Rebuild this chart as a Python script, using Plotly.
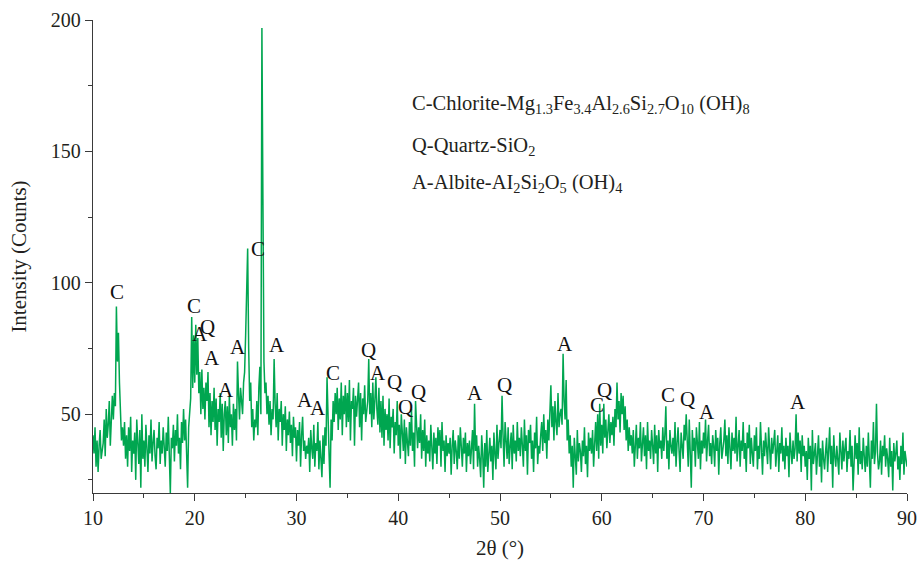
import plotly.graph_objects as go

# 2θ scan: one row of 10 readings (step 0.1°) per degree, 10.0° … 89.9°, then 90.0°
start_deg = 10
step_deg = 0.1
intensity_rows = [
    [42, 35, 45, 30, 40, 28, 38, 44, 33, 36],   # 10
    [39, 48, 34, 52, 41, 46, 55, 38, 50, 57],   # 11
    [48, 58, 53, 91, 70, 81, 62, 52, 40, 45],   # 12
    [38, 47, 33, 42, 30, 45, 36, 49, 28, 40],   # 13
    [35, 43, 25, 48, 38, 31, 44, 22, 50, 33],   # 14
    [40, 30, 46, 37, 28, 42, 35, 48, 32, 39],   # 15
    [44, 34, 29, 41, 37, 47, 31, 40, 35, 45],   # 16
    [38, 30, 43, 36, 49, 33, 20, 41, 37, 46],   # 17
    [32, 44, 38, 50, 35, 41, 29, 47, 39, 52],   # 18
    [40, 48, 36, 22, 45, 51, 56, 87, 60, 80],   # 19
    [62, 84, 65, 79, 58, 66, 50, 67, 52, 60],   # 20
    [48, 62, 55, 66, 45, 58, 42, 55, 47, 60],   # 21
    [44, 56, 38, 52, 47, 58, 41, 54, 36, 50],   # 22
    [55, 42, 53, 39, 57, 45, 50, 38, 54, 44],   # 23
    [52, 40, 70, 58, 48, 60, 56, 50, 62, 66],   # 24
    [80, 101, 113, 75, 55, 62, 45, 52, 40, 48], # 25
    [45, 55, 42, 60, 68, 50, 197, 132, 70, 58], # 26
    [62, 50, 57, 46, 55, 42, 52, 48, 71, 54],   # 27
    [45, 58, 40, 52, 47, 55, 38, 50, 44, 53],   # 28
    [36, 48, 42, 51, 39, 46, 34, 49, 41, 45],   # 29
    [32, 44, 38, 47, 30, 42, 49, 36, 40, 33],   # 30
    [38, 35, 41, 28, 44, 37, 33, 46, 30, 39],   # 31
    [36, 47, 29, 40, 34, 26, 42, 31, 45, 38],   # 32
    [64, 45, 35, 22, 48, 40, 55, 47, 58, 50],   # 33
    [60, 44, 56, 48, 62, 42, 57, 50, 61, 45],   # 34
    [58, 47, 63, 40, 55, 52, 60, 38, 57, 49],   # 35
    [54, 62, 45, 58, 40, 56, 50, 61, 47, 53],   # 36
    [55, 71, 50, 58, 45, 62, 48, 55, 64, 52],   # 37
    [46, 60, 43, 55, 41, 57, 38, 52, 44, 50],   # 38
    [40, 56, 37, 49, 45, 52, 35, 47, 42, 55],   # 39
    [38, 46, 33, 50, 40, 36, 48, 31, 45, 39],   # 40
    [34, 47, 38, 52, 36, 43, 30, 55, 41, 37],   # 41
    [45, 39, 50, 33, 44, 36, 48, 30, 42, 35],   # 42
    [40, 32, 46, 37, 29, 43, 35, 41, 31, 45],   # 43
    [38, 44, 30, 47, 36, 40, 28, 42, 34, 39],   # 44
    [35, 41, 27, 38, 44, 31, 40, 36, 29, 42],   # 45
    [33, 45, 37, 30, 41, 35, 43, 28, 39, 34],   # 46
    [40, 31, 37, 44, 29, 54, 36, 42, 30, 38],   # 47
    [33, 26, 42, 35, 22, 39, 30, 44, 28, 36],   # 48
    [41, 32, 38, 25, 43, 35, 29, 46, 33, 39],   # 49
    [44, 37, 57, 42, 30, 47, 38, 33, 45, 31],   # 50
    [38, 43, 29, 46, 35, 40, 32, 47, 36, 41],   # 51
    [34, 45, 38, 30, 48, 36, 42, 27, 44, 39],   # 52
    [46, 33, 40, 28, 43, 37, 49, 31, 38, 35],   # 53
    [42, 47, 36, 50, 39, 44, 33, 48, 40, 52],   # 54
    [61, 45, 53, 40, 55, 47, 42, 58, 45, 50],   # 55
    [52, 46, 73, 55, 48, 63, 40, 48, 35, 42],   # 56
    [30, 38, 22, 41, 35, 27, 44, 32, 39, 36],   # 57
    [28, 40, 34, 45, 31, 38, 26, 43, 36, 41],   # 58
    [35, 44, 30, 39, 47, 36, 50, 33, 54, 38],   # 59
    [46, 35, 54, 41, 48, 37, 44, 50, 39, 47],   # 60
    [42, 49, 38, 52, 45, 62, 48, 55, 43, 58],   # 61
    [50, 57, 44, 53, 40, 48, 36, 45, 38, 42],   # 62
    [35, 44, 30, 40, 46, 33, 41, 37, 47, 32],   # 63
    [39, 45, 34, 42, 29, 47, 36, 40, 33, 44],   # 64
    [38, 31, 46, 35, 42, 28, 44, 37, 40, 33],   # 65
    [45, 36, 42, 53, 33, 40, 29, 44, 38, 35],   # 66
    [41, 34, 47, 30, 39, 45, 36, 28, 43, 37],   # 67
    [33, 46, 40, 50, 42, 30, 48, 38, 22, 44],   # 68
    [36, 41, 30, 45, 38, 33, 47, 29, 40, 35],   # 69
    [43, 37, 48, 32, 40, 46, 34, 39, 31, 42],   # 70
    [38, 30, 44, 36, 41, 27, 39, 45, 33, 37],   # 71
    [40, 48, 34, 42, 31, 45, 38, 29, 43, 36],   # 72
    [41, 35, 49, 32, 38, 44, 30, 40, 36, 47],   # 73
    [33, 39, 28, 43, 37, 46, 31, 41, 35, 30],   # 74
    [42, 36, 45, 29, 38, 33, 47, 37, 27, 40],   # 75
    [34, 43, 38, 31, 45, 36, 29, 41, 35, 39],   # 76
    [44, 30, 37, 42, 28, 39, 35, 45, 32, 38],   # 77
    [29, 41, 34, 38, 26, 43, 36, 31, 40, 33],   # 78
    [37, 50, 32, 43, 35, 40, 28, 42, 34, 38],   # 79
    [30, 36, 25, 41, 33, 38, 21, 44, 31, 35],   # 80
    [39, 27, 34, 42, 30, 37, 24, 40, 33, 29],   # 81
    [36, 41, 28, 35, 45, 31, 38, 22, 42, 34],   # 82
    [30, 38, 33, 27, 43, 35, 29, 40, 32, 37],   # 83
    [41, 28, 36, 33, 44, 30, 38, 21, 35, 42],   # 84
    [33, 39, 27, 45, 31, 36, 29, 41, 34, 28],   # 85
    [38, 30, 43, 35, 22, 40, 33, 47, 31, 36],   # 86
    [54, 35, 29, 32, 40, 27, 38, 34, 42, 30],   # 87
    [37, 33, 26, 41, 30, 36, 21, 39, 32, 35],   # 88
    [40, 29, 34, 25, 38, 31, 43, 27, 36, 33],   # 89
]
intensity_last = 30  # 90.0°

intensity = [v for row in intensity_rows for v in row] + [intensity_last]
two_theta = [round(start_deg + i * step_deg, 1) for i in range(len(intensity))]

# Phase labels on peaks
label_text = ["C", "C", "A", "Q", "A", "A", "A", "C", "Q", "A", "A", "A", "C",
              "Q", "A", "Q", "Q", "Q", "A", "Q", "A", "C", "Q", "C", "Q", "A", "A"]
label_x = [12.35, 19.95, 20.5, 21.3, 21.7, 23.1, 24.25, 26.2, 26.6, 28.1, 30.85, 32.1, 33.6,
           37.1, 38.0, 39.6, 40.7, 42.0, 47.5, 50.4, 56.4, 59.5, 60.3, 66.5, 68.4, 70.3, 79.3]
label_y = [96.5, 91, 80.5, 83, 71.5, 59.2, 75.5, 112.8, 202.3, 76.3, 55.3, 52.3, 65.6,
           74.4, 65.6, 62.2, 52.7, 58.3, 58, 61, 76.7, 53.4, 59.2, 57.3, 55.7, 50.8, 54.6]

legend_lines = [
    "C-Chlorite-Mg<sub>1.3</sub>Fe<sub>3.4</sub>Al<sub>2.6</sub>Si<sub>2.7</sub>O<sub>10</sub> (OH)<sub>8</sub>",
    "Q-Quartz-SiO<sub>2</sub>",
    "A-Albite-AI<sub>2</sub>Si<sub>2</sub>O<sub>5</sub> (OH)<sub>4</sub>",
]
legend_y = [104, 146, 183]  # window pixel rows of the text block lines

FONT = "Liberation Serif, Times New Roman, serif"
TXT = "#231f20"
GREEN = "#00a650"

fig = go.Figure()
fig.add_trace(go.Scatter(x=two_theta, y=intensity, mode="lines",
                         line=dict(color=GREEN, width=1.5), hoverinfo="skip"))

W, H = 918, 567
ML, MR, MT, MB = 93, 11, 20, 74
PW, PH = W - ML - MR, H - MT - MB

annotations = []
for t, x, y in zip(label_text, label_x, label_y):
    annotations.append(dict(x=x, y=y, xref="x", yref="y", text=t, showarrow=False,
                            font=dict(family=FONT, size=21, color="#111111"),
                            xanchor="center", yanchor="middle"))
for txt, py in zip(legend_lines, legend_y):
    annotations.append(dict(x=(410 - ML) / PW, y=1 - (py - MT) / PH,
                            xref="paper", yref="paper", text=txt, showarrow=False,
                            font=dict(family=FONT, size=20.5, color=TXT),
                            xanchor="left", yanchor="middle"))

axis_common = dict(showline=True, linecolor="#3a3a3a", linewidth=1.3, ticks="outside",
                   ticklen=7, tickwidth=1.3, tickcolor="#3a3a3a", showgrid=False,
                   zeroline=False, mirror=False, automargin=False,
                   tickfont=dict(family=FONT, size=20, color=TXT))

fig.update_layout(
    width=W, height=H,
    margin=dict(l=ML, r=MR, t=MT, b=MB),
    paper_bgcolor="white", plot_bgcolor="white",
    showlegend=False,
    annotations=annotations,
    xaxis=dict(range=[10, 90], tickvals=[10, 20, 30, 40, 50, 60, 70, 80, 90],
               minor=dict(tickvals=[15, 25, 35, 45, 55, 65, 75, 85], ticklen=4,
                          tickwidth=1.3, tickcolor="#3a3a3a", ticks="outside"),
               title=dict(text="2θ (°)", font=dict(family=FONT, size=21, color=TXT), standoff=12),
               **axis_common),
    yaxis=dict(range=[20, 200], tickvals=[50, 100, 150, 200],
               minor=dict(tickvals=[25, 75, 125, 175], ticklen=4,
                          tickwidth=1.3, tickcolor="#3a3a3a", ticks="outside"),
               title=dict(text="Intensity (Counts)", font=dict(family=FONT, size=21, color=TXT),
                          standoff=18),
               **axis_common),
)

# remove the browser's default 8px page margin so the 918x567 figure fills the window
fig.write_html("out.html",
               config={"displayModeBar": False},
               post_script="document.body.style.margin='0';document.body.style.overflow='hidden';")
